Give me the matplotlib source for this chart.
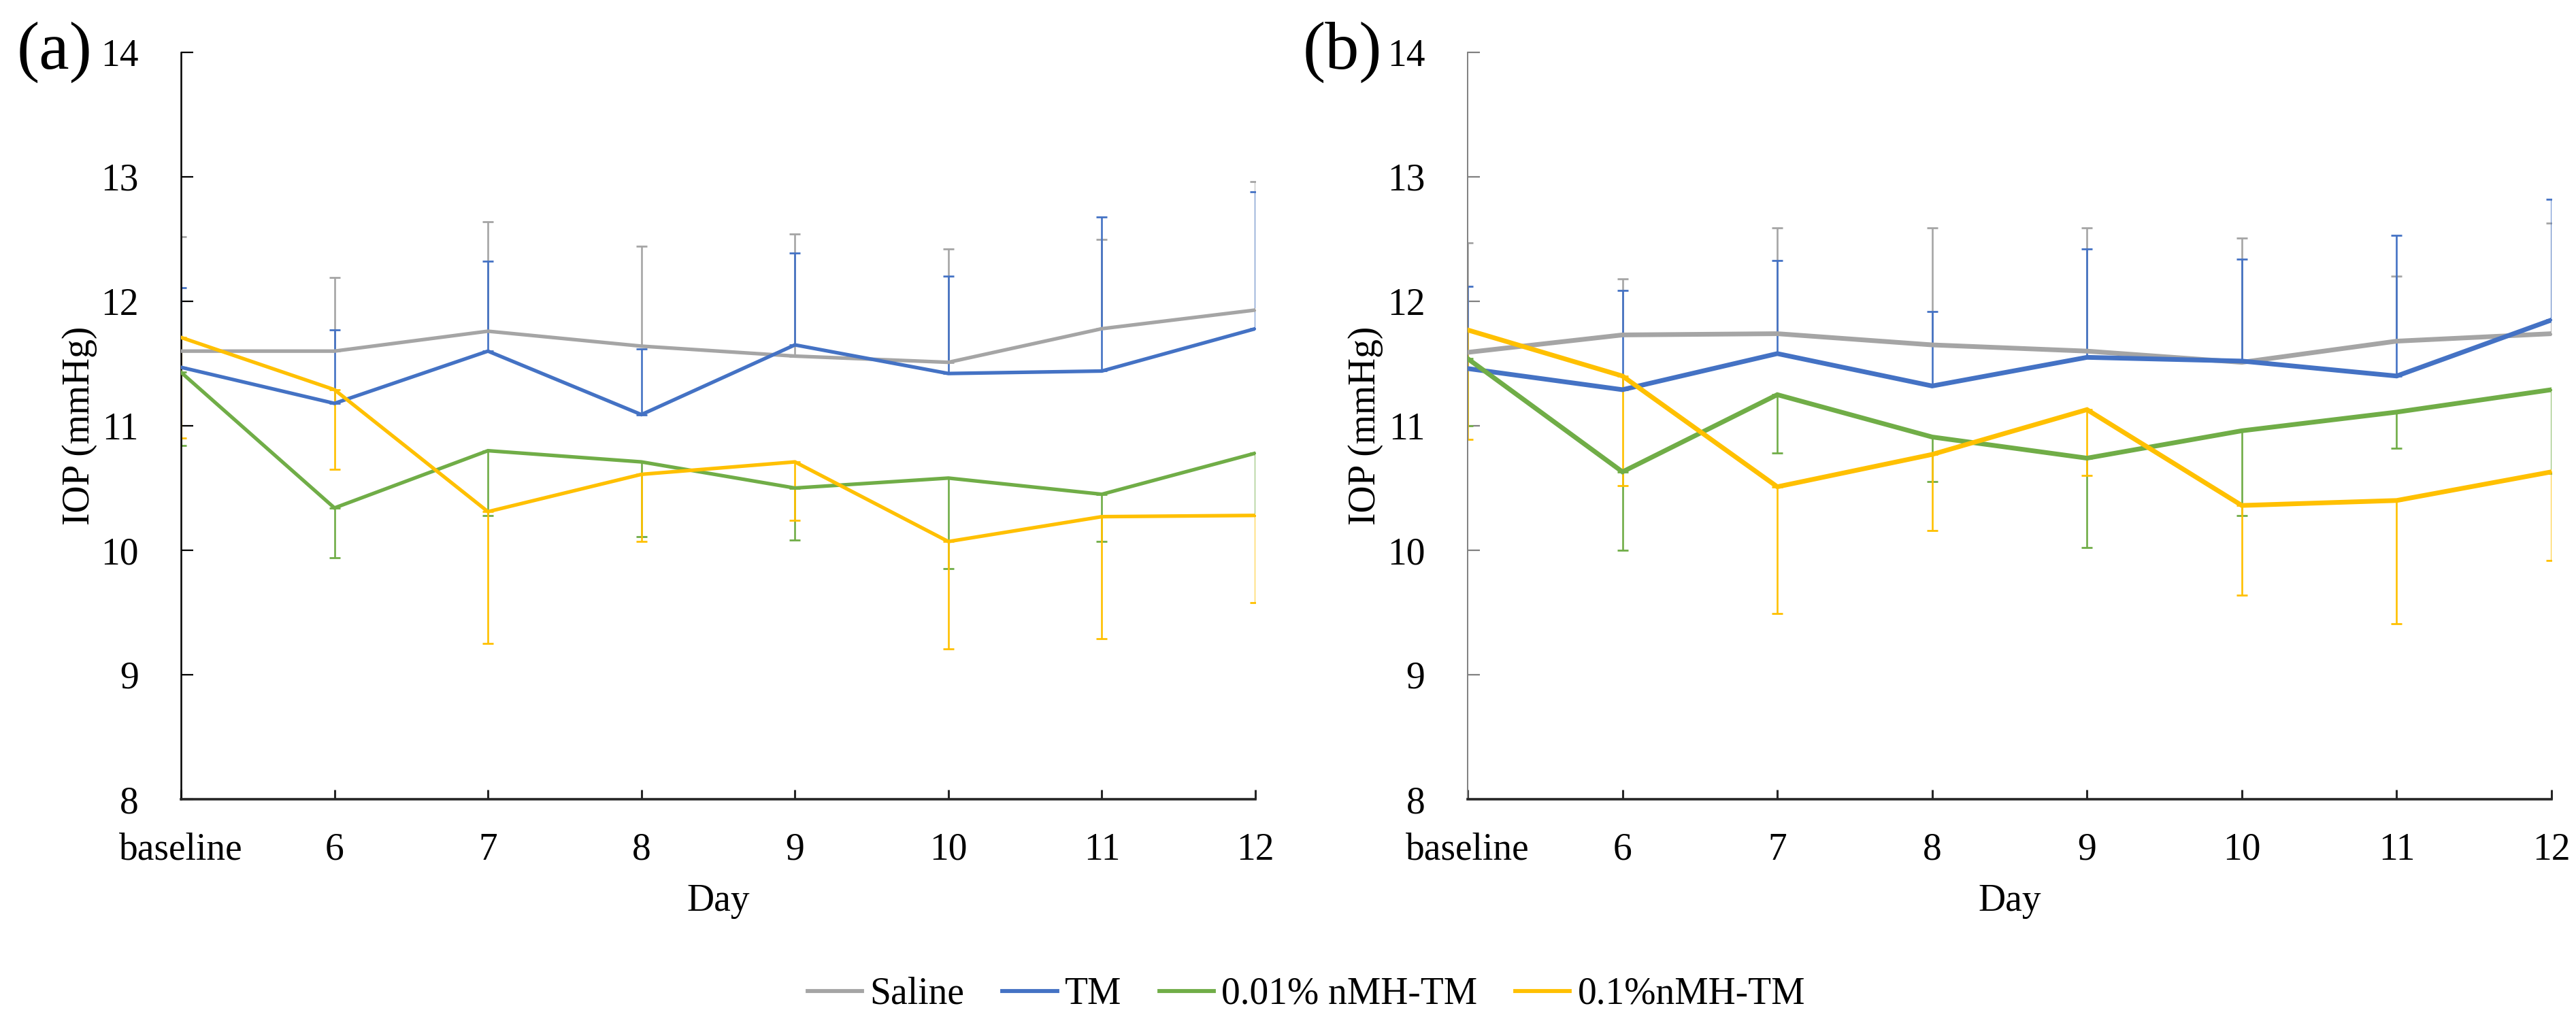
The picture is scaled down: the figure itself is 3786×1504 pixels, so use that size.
import matplotlib
matplotlib.use('Agg')
import matplotlib.pyplot as plt
import numpy as np

plt.rcParams['font.family'] = ['Liberation Serif', 'DejaVu Serif']

# x axis
days = ['baseline', '6', '7', '8', '9', '10', '11', '12']
groups = ['Saline', 'TM', '0.01% nMH-TM', '0.1%nMH-TM']
colors = ['#A5A5A5', '#4472C4', '#70AD47', '#FFC000']

# panel (a): means and SD (error drawn up for Saline/TM, down for nMH-TM)
saline_a = [11.60, 11.60, 11.76, 11.64, 11.56, 11.51, 11.78, 11.93]
saline_a_sd = [0.92, 0.59, 0.88, 0.80, 0.98, 0.91, 0.72, 1.03]
tm_a = [11.47, 11.18, 11.60, 11.09, 11.65, 11.42, 11.44, 11.78]
tm_a_sd = [0.64, 0.59, 0.72, 0.53, 0.74, 0.78, 1.24, 1.10]
low_a = [11.43, 10.34, 10.80, 10.71, 10.50, 10.58, 10.45, 10.78]
low_a_sd = [0.59, 0.40, 0.52, 0.60, 0.42, 0.73, 0.38, 0.50]
high_a = [11.71, 11.29, 10.31, 10.61, 10.71, 10.07, 10.27, 10.28]
high_a_sd = [0.81, 0.64, 1.06, 0.54, 0.47, 0.86, 0.98, 0.70]

# panel (b)
saline_b = [11.59, 11.73, 11.74, 11.65, 11.60, 11.51, 11.68, 11.74]
saline_b_sd = [0.88, 0.45, 0.85, 0.94, 0.99, 1.00, 0.52, 0.89]
tm_b = [11.46, 11.29, 11.58, 11.32, 11.55, 11.52, 11.40, 11.85]
tm_b_sd = [0.66, 0.80, 0.75, 0.60, 0.87, 0.82, 1.13, 0.97]
low_b = [11.54, 10.63, 11.25, 10.91, 10.74, 10.96, 11.11, 11.29]
low_b_sd = [0.54, 0.63, 0.47, 0.36, 0.72, 0.68, 0.29, 0.67]
high_b = [11.77, 11.40, 10.51, 10.77, 11.13, 10.36, 10.40, 10.63]
high_b_sd = [0.88, 0.88, 1.02, 0.61, 0.53, 0.72, 0.99, 0.71]

series_a = [(saline_a, saline_a_sd, 'up'), (tm_a, tm_a_sd, 'up'),
            (low_a, low_a_sd, 'down'), (high_a, high_a_sd, 'down')]
series_b = [(saline_b, saline_b_sd, 'up'), (tm_b, tm_b_sd, 'up'),
            (low_b, low_b_sd, 'down'), (high_b, high_b_sd, 'down')]

W, H = 3786, 1504
fig = plt.figure(figsize=(W / 100, H / 100), dpi=100)

ax_a = fig.add_axes([266 / W, (H - 1175) / H, (1845 - 266) / W, (1175 - 77) / H])
ax_b = fig.add_axes([2157 / W, (H - 1175) / H, (3750 - 2157) / W, (1175 - 77) / H])

x = np.arange(len(days))


def draw(ax, series, lw, yspine_color, yspine_lw):
    handles = []
    for (vals, sd, side), col, name in zip(series, colors, groups):
        sd = np.array(sd)
        zero = np.zeros_like(sd)
        yerr = [zero, sd] if side == 'up' else [sd, zero]
        ax.errorbar(x, vals, yerr=yerr, fmt='none', ecolor=col, elinewidth=1.9,
                    capsize=6, capthick=2.0, zorder=2)
        h, = ax.plot(x, vals, color=col, lw=lw, label=name, zorder=3,
                     solid_joinstyle='miter')
        handles.append(h)

    ax.set_xlim(0, 7)
    ax.set_ylim(8, 14)
    ax.set_xticks(x)
    ax.set_xticklabels(days)
    ax.set_yticks(range(8, 15))

    ax.spines['top'].set_visible(False)
    ax.spines['right'].set_visible(False)
    ax.spines['bottom'].set_linewidth(2.6)
    ax.spines['bottom'].set_color('#262626')
    ax.spines['left'].set_linewidth(yspine_lw)
    ax.spines['left'].set_color(yspine_color)

    ax.tick_params(axis='x', direction='in', length=10, width=2.2, color='#262626',
                   pad=35, labelsize=40)
    ax.tick_params(axis='y', direction='in', length=13, width=1.6, color=yspine_color,
                   pad=45, labelsize=40)

    ax.set_ylabel('IOP (mmHg)', fontsize=40)
    ax.yaxis.set_label_coords(-0.078, 0.5)
    ax.set_xlabel('Day', fontsize=40)
    ax.xaxis.set_label_coords(0.5, -0.113)
    return handles


handles = draw(ax_a, series_a, 3.8, 'black', 1.8)
draw(ax_b, series_b, 5.0, '#808080', 1.4)

fig.text(25 / W, 1 - 77 / H, '(a)', fontsize=72, ha='left', va='center')
fig.text(1915 / W, 1 - 77 / H, '(b)', fontsize=72, ha='left', va='center')

leg = fig.legend(handles=handles, loc='center', bbox_to_anchor=(1920 / W, 1 - 1462 / H),
                 ncol=4, frameon=False, fontsize=40, handlelength=1.45,
                 handletextpad=0.2, columnspacing=1.0)
for line in leg.get_lines():
    line.set_linewidth(4.2)

fig.savefig('out.png', dpi=100)
